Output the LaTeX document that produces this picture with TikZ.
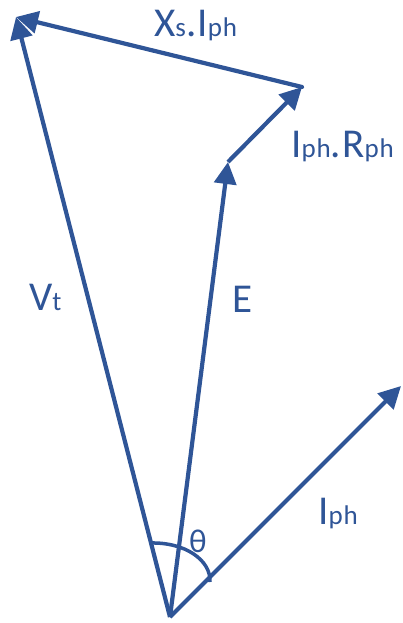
\documentclass[tikz,border=0pt]{standalone}
\usepackage{fontspec}
\setmainfont{Carlito}[LetterSpace=3]
\usetikzlibrary{arrows.meta}
\definecolor{vblue}{HTML}{2F5597}
\newcommand{\sbs}[1]{{\fontsize{27}{27}\selectfont #1}}
\begin{document}
\begin{tikzpicture}[x=1pt,y=-1pt,
  vec/.style={draw=vblue,line width=4.2pt,-{Triangle[length=22pt,width=22pt]}},
  lbl/.style={text=vblue,font=\fontsize{41}{41}\selectfont,inner sep=0pt,anchor=base west}]
\useasboundingbox (0,0) rectangle (402,623);
\coordinate (O) at (170,617);
\coordinate (V) at (16,17);
\coordinate (E) at (228,162);
\coordinate (R) at (302,87);
\coordinate (I) at (401,386);
\draw[vec] (O) -- (I);
\draw[vec] (O) -- (E);
\draw[vec] (O) -- (V);
\draw[vec] (E) -- (R);
\draw[vec,line cap=round] (R) -- (V);
\draw[draw=vblue,line width=3.5pt] (150,543) .. controls (185,542) and (211,560) .. (210,582);
\node[lbl] (lx) at (154,37) {X\sbs{s}.I\sbs{ph}};
\node[lbl] (lr) at (291,157) {I\sbs{ph}.R\sbs{ph}};
\node[lbl] (lv) at (29,310) {V\sbs{t}};
\node[lbl] (le) at (232,312) {E};
\node[lbl] (li) at (318,524) {I\sbs{ph}};
\node[lbl,font=\fontsize{33}{33}\selectfont] (lt) at (189,552) {θ};
\end{tikzpicture}
\end{document}
